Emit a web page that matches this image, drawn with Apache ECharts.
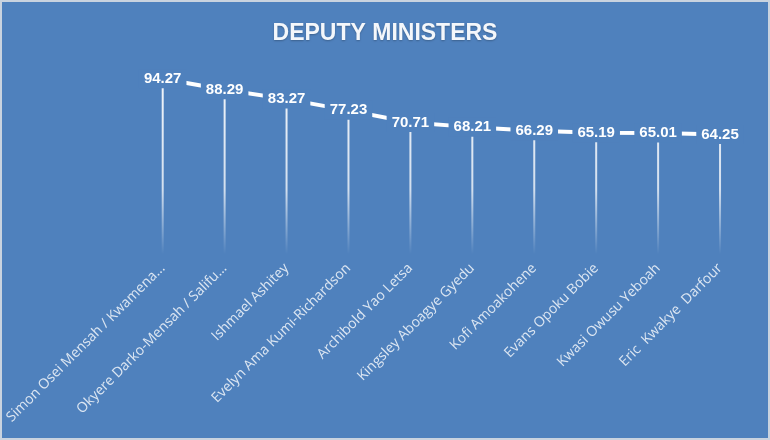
<!DOCTYPE html>
<html>
<head>
<meta charset="utf-8">
<script src="https://cdn.jsdelivr.net/npm/echarts@6/dist/echarts.min.js"></script>
<style>
  html, body { margin: 0; padding: 0; background: #f2f2f2; }
  #chart { width: 766px; height: 436px; border: 2px solid #c9d3df; }
</style>
</head>
<body>
<div id="chart"></div>
<script>
// deputy ministers scores
const names = [
  'Simon Osei Mensah / Kwamena...',
  'Okyere Darko-Mensah / Salifu...',
  'Ishmael Ashitey',
  'Evelyn Ama Kumi-Richardson',
  'Archibold Yao Letsa',
  'Kingsley Aboagye Gyedu',
  'Kofi Amoakohene',
  'Evans Opoku Bobie',
  'Kwasi Owusu Yeboah',
  'Eric  Kwakye  Darfour'
]
const scores = [94.27, 88.29, 83.27, 77.23, 70.71, 68.21, 66.29, 65.19, 65.01, 64.25]

const bg = '#4f81bd'

const chart = echarts.init(document.getElementById('chart'))

chart.setOption({
  backgroundColor: bg,
  animation: false,
  title: {
    text: 'DEPUTY MINISTERS',
    left: 'center',
    top: 15,
    textStyle: {
      color: '#f4f7fb',
      fontFamily: 'Liberation Sans',
      fontWeight: 'bold',
      fontSize: 23,
      textShadowColor: 'rgba(0,0,0,0.25)',
      textShadowBlur: 2,
      textShadowOffsetY: 1
    }
  },
  grid: {
    left: 129,
    right: 17,
    top: 66,
    bottom: 184
  },
  xAxis: {
    type: 'category',
    data: names,
    axisLine: { show: false },
    axisTick: { show: false },
    axisLabel: {
      rotate: 45,
      margin: 12,
      interval: 0,
      color: '#dce6f2',
      fontFamily: 'Open Sans',
      fontSize: 14
    }
  },
  yAxis: {
    type: 'value',
    min: 0,
    max: 100,
    show: false,
    splitLine: { show: false }
  },
  series: [
    {
      // drop lines
      type: 'bar',
      data: scores,
      barWidth: 2,
      z: 1,
      itemStyle: {
        color: new echarts.graphic.LinearGradient(0, 90, 0, 252, [
          { offset: 0, color: 'rgba(255,255,255,0.9)' },
          { offset: 0.6, color: 'rgba(255,255,255,0.75)' },
          { offset: 1, color: 'rgba(255,255,255,0)' }
        ], true)
      }
    },
    {
      type: 'line',
      data: scores,
      z: 3,
      symbol: 'circle',
      symbolSize: 2,
      itemStyle: { color: '#ffffff' },
      lineStyle: { color: '#ffffff', width: 4 },
      label: {
        show: true,
        position: 'inside',
        color: '#ffffff',
        fontFamily: 'Liberation Sans',
        fontWeight: 'bold',
        fontSize: 15,
        backgroundColor: bg,
        padding: [2, 5]
      }
    }
  ]
})
</script>
</body>
</html>
